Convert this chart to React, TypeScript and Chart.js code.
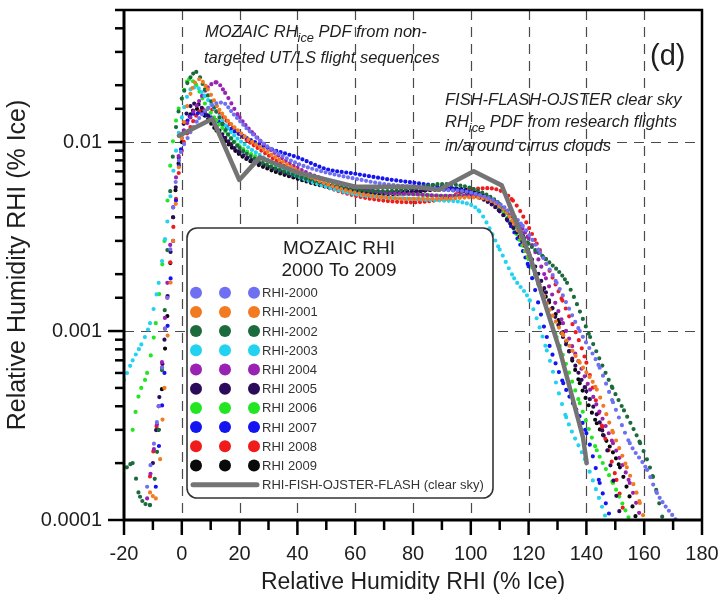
import React, { useEffect, useRef } from 'react';
import { Chart, registerables } from 'chart.js';

Chart.register(...registerables);

const FONT = "'Liberation Sans', Arial, Helvetica, sans-serif";

// axis setup
const X_MIN = -20;
const X_MAX = 180;
const Y_MIN = 0.0001;
const Y_MAX = 0.05;
const X_TICKS = [-20, 0, 20, 40, 60, 80, 100, 120, 140, 160, 180];
const X_TICK_LABELS = ['-20', '0', '20', '40', '60', '80', '100', '120', '140', '160', '180'];
const X_MINOR_TICKS = [-10, 10, 30, 50, 70, 90, 110, 130, 150, 170];
const X_GRID = [0, 20, 40, 60, 80, 100, 120, 140, 160];
const Y_GRID = [0.001, 0.01];
const Y_LABEL_VALUES = [0.0001, 0.001, 0.01];
const Y_TICK_LABELS = ['0.0001', '0.001', '0.01'];

const AXIS_TITLE = 'Relative Humidity RHI (% Ice)';

// series names and colours
const SERIES_NAMES = ['RHI-2000', 'RHI-2001', 'RHI-2002', 'RHI-2003', 'RHI 2004', 'RHI 2005', 'RHI 2006', 'RHI 2007', 'RHI 2008', 'RHI 2009'];
const SERIES_COLORS = ['#6F6FF2', '#F27A20', '#1C6B3D', '#22D2F0', '#9A22B2', '#2A0C5A', '#22E622', '#1414F0', '#F01C1C', '#0A0A0A'];
const FISH_NAME = 'RHI-FISH-OJSTER-FLASH (clear sky)';
const FISH_COLOR = '#747474';

// [RHI %, PDF]
const RHI_2000 = [[-12, 0.00015], [-8, 0.0004], [-5, 0.0015], [-3, 0.0045], [-1, 0.008], [2, 0.0105], [6, 0.0134], [10, 0.0155], [14, 0.0162], [18, 0.014], [24, 0.0112], [30, 0.0094], [40, 0.0077], [50, 0.0069], [60, 0.0064], [70, 0.006], [80, 0.0058], [90, 0.0056], [100, 0.0054], [110, 0.0047], [118, 0.0036], [124, 0.0026], [129.7, 0.0018], [137.7, 0.001], [144.6, 0.00064], [149.2, 0.00042], [155, 0.000255], [161, 0.000184], [164.4, 0.000139], [171, 0.0001]];
const RHI_2001 = [[-11, 0.00014], [-9, 0.00013], [-6, 0.0005], [-3, 0.003], [0, 0.0105], [3, 0.018], [6, 0.0215], [9, 0.019], [13, 0.0148], [20, 0.0113], [30, 0.0088], [40, 0.0071], [50, 0.006], [60, 0.0054], [70, 0.0051], [80, 0.005], [90, 0.005], [100, 0.0051], [110, 0.0046], [115, 0.0037], [120, 0.0025], [126.3, 0.0014], [132, 0.00095], [137.7, 0.00068], [143.6, 0.00049], [149.2, 0.00029], [154, 0.00019], [158.5, 0.000123], [160, 0.0001]];
const RHI_2002 = [[-19, 0.00019], [-17, 0.0002], [-15, 0.00014], [-11, 0.00012], [-8, 0.0003], [-6, 0.0012], [-4, 0.0055], [-2, 0.012], [0, 0.017], [3, 0.022], [5, 0.0235], [8, 0.019], [12, 0.0145], [16, 0.011], [20, 0.0093], [25, 0.0082], [30, 0.0075], [40, 0.0066], [50, 0.006], [60, 0.0056], [70, 0.0055], [80, 0.0057], [90, 0.006], [100, 0.0057], [110, 0.0047], [120, 0.0029], [126, 0.0024], [133.3, 0.0018], [141.3, 0.00093], [149, 0.0005], [153, 0.00038], [158.6, 0.000255], [163, 0.000169], [166.5, 0.0001]];
const RHI_2003 = [[-20, 0.00055], [-17, 0.0007], [-14, 0.00085], [-11, 0.0011], [-8, 0.0018], [-5, 0.0038], [-2, 0.009], [0, 0.0135], [3, 0.019], [5, 0.0195], [8, 0.0175], [12, 0.0145], [16, 0.0118], [20, 0.0102], [30, 0.008], [40, 0.0066], [50, 0.0058], [60, 0.0053], [70, 0.0051], [80, 0.005], [90, 0.0049], [97, 0.0048], [103, 0.0043], [110, 0.0027], [115, 0.0019], [120.4, 0.00145], [126.3, 0.00079], [133, 0.00035], [140, 0.0002], [147, 0.0001]];
const RHI_2004 = [[-12, 0.00013], [-8, 0.0004], [-5, 0.0018], [-2, 0.0065], [0, 0.0105], [3, 0.0135], [6, 0.0165], [9, 0.0195], [12, 0.0207], [15, 0.0182], [20, 0.0135], [25, 0.011], [30, 0.0093], [40, 0.0073], [50, 0.0063], [60, 0.0058], [70, 0.0054], [80, 0.0053], [90, 0.0052], [100, 0.0052], [110, 0.0046], [120, 0.0031], [126, 0.0019], [131.9, 0.0011], [141.3, 0.00049], [149.2, 0.000255], [155, 0.000157], [159, 0.0001]];
const RHI_2005 = [[-10, 0.0002], [-6, 0.0009], [-3, 0.004], [0, 0.011], [3, 0.0155], [5, 0.016], [8, 0.0145], [12, 0.012], [20, 0.0088], [30, 0.0074], [40, 0.0065], [50, 0.0059], [60, 0.0055], [70, 0.0054], [80, 0.0055], [90, 0.0056], [100, 0.0053], [110, 0.0043], [120, 0.0026], [126, 0.0016], [131.9, 0.00093], [140, 0.00048], [146, 0.00028], [152, 0.0001]];
const RHI_2006 = [[-17, 0.0003], [-15, 0.00045], [-12, 0.0006], [-9, 0.0011], [-6, 0.003], [-4, 0.0075], [-2, 0.013], [0, 0.017], [2.5, 0.0215], [5, 0.02], [8, 0.016], [12, 0.013], [20, 0.0095], [30, 0.0078], [40, 0.0067], [50, 0.006], [60, 0.0056], [70, 0.0054], [80, 0.0053], [90, 0.0052], [100, 0.0052], [110, 0.0045], [120, 0.0024], [125, 0.0015], [129.7, 0.00093], [137.7, 0.000415], [143.6, 0.000234], [149.2, 0.000157], [155, 0.0001]];
const RHI_2007 = [[-9, 0.00015], [-6, 0.0006], [-3, 0.003], [-1, 0.0075], [2, 0.013], [5, 0.0142], [8, 0.014], [12, 0.013], [20, 0.011], [30, 0.0093], [40, 0.0083], [50, 0.0072], [60, 0.0068], [70, 0.0064], [80, 0.0061], [90, 0.0058], [100, 0.0054], [110, 0.0044], [120, 0.0022], [126.3, 0.00093], [132, 0.00053], [140, 0.000288], [144.6, 0.000157], [148.5, 0.0001]];
const RHI_2008 = [[-11, 0.00017], [-8, 0.0004], [-5, 0.0015], [-2, 0.005], [0, 0.009], [3, 0.012], [6, 0.0145], [9, 0.015], [12, 0.0145], [20, 0.011], [30, 0.0085], [40, 0.0068], [50, 0.0058], [60, 0.0052], [70, 0.0049], [80, 0.0048], [90, 0.005], [100, 0.0056], [106, 0.0057], [114.6, 0.0049], [122.8, 0.0029], [131.7, 0.00145], [140, 0.00068], [145.5, 0.00031], [150.4, 0.000163], [153.5, 0.0001]];
const RHI_2009 = [[-8, 0.0003], [-5, 0.0012], [-3, 0.004], [0, 0.01], [3, 0.014], [5, 0.015], [8, 0.0138], [12, 0.0115], [20, 0.0086], [30, 0.0072], [40, 0.0064], [50, 0.0058], [60, 0.0055], [70, 0.0053], [80, 0.0054], [90, 0.0057], [100, 0.0055], [110, 0.0046], [118, 0.0032], [122.8, 0.0019], [130.8, 0.0011], [137.7, 0.00053], [143.6, 0.000325], [151.6, 0.00019], [157.4, 0.0001]];
const RHI_FISH = [[-1, 0.0108], [10.6, 0.0133], [19.9, 0.0063], [27, 0.0083], [40, 0.0069], [60, 0.0058], [80, 0.0058], [89, 0.0056], [101, 0.007], [110.7, 0.0059], [120.4, 0.0025], [130.8, 0.00079], [138.8, 0.000274], [140.1, 0.0002]];

const SERIES = [RHI_2000, RHI_2001, RHI_2002, RHI_2003, RHI_2004, RHI_2005, RHI_2006, RHI_2007, RHI_2008, RHI_2009];

const TEXT_COLOR = '#1e1e1e';

// dotted style: one dot per ~1 %RHI bin along x, never closer than DOT_MIN_GAP px
const DOT_MIN_GAP = 4.6;
const DOT_BIN_PX = 3.1;

function segmentDash(ctx: any) {
  const p0 = ctx.p0;
  const p1 = ctx.p1;
  const dx = Math.abs(p1.x - p0.x);
  const dy = Math.abs(p1.y - p0.y);
  const len = Math.sqrt(dx * dx + dy * dy);
  let gap = dx > 0.01 ? (DOT_BIN_PX * len) / dx : 60;
  gap = Math.min(Math.max(gap, DOT_MIN_GAP), 60);
  return [0, gap];
}

function drawRich(ctx: CanvasRenderingContext2D, x: number, y: number, parts: { t: string; sub?: boolean }[], size: number) {
  let cx = x;
  for (const p of parts) {
    if (p.sub) {
      ctx.font = `italic ${size * 0.78}px ${FONT}`;
      ctx.fillText(p.t, cx, y + size * 0.38);
    } else {
      ctx.font = `italic ${size}px ${FONT}`;
      ctx.fillText(p.t, cx, y);
    }
    cx += ctx.measureText(p.t).width;
  }
}

const decorPlugin = {
  id: 'decor',
  beforeDatasetsDraw(chart: any) {
    const { ctx, chartArea: a, scales } = chart;
    const xs = scales.x;
    const ys = scales.y;
    ctx.save();
    ctx.strokeStyle = '#4a4a4a';
    ctx.lineWidth = 1.2;
    ctx.setLineDash([10, 7]);
    X_GRID.forEach((v) => {
      const px = Math.round(xs.getPixelForValue(v)) + 0.5;
      ctx.beginPath();
      ctx.moveTo(px, a.top);
      ctx.lineTo(px, a.bottom);
      ctx.stroke();
    });
    Y_GRID.forEach((v) => {
      const py = Math.round(ys.getPixelForValue(v)) + 0.5;
      ctx.beginPath();
      ctx.moveTo(a.left, py);
      ctx.lineTo(a.right, py);
      ctx.stroke();
    });
    ctx.restore();
  },
  afterDatasetsDraw(chart: any) {
    const { ctx } = chart;
    ctx.save();
    // legend box
    const L = { left: 187, top: 228, right: 493, bottom: 498, r: 10 };
    ctx.beginPath();
    ctx.roundRect(L.left, L.top, L.right - L.left, L.bottom - L.top, L.r);
    ctx.fillStyle = '#ffffff';
    ctx.fill();
    ctx.lineWidth = 1.6;
    ctx.strokeStyle = '#333333';
    ctx.stroke();

    ctx.fillStyle = TEXT_COLOR;
    ctx.textAlign = 'center';
    ctx.textBaseline = 'middle';
    ctx.font = `19px ${FONT}`;
    ctx.fillText('MOZAIC RHI', 339, 249);
    ctx.fillText('2000 To 2009', 339, 271);

    const rowY0 = 292.7;
    const dy = 19.2;
    ctx.textAlign = 'left';
    ctx.font = `13px ${FONT}`;
    chart.data.datasets.forEach((ds: any, i: number) => {
      if (ds.isFish) return;
      const y = rowY0 + i * dy;
      ctx.fillStyle = ds.borderColor;
      [196, 225, 254].forEach((x) => {
        ctx.beginPath();
        ctx.arc(x, y, 6, 0, Math.PI * 2);
        ctx.fill();
      });
      ctx.fillStyle = '#333';
      ctx.fillText(ds.label, 262, y + 1);
    });
    const fish = chart.data.datasets.find((d: any) => d.isFish);
    const fy = rowY0 + 10 * dy;
    ctx.strokeStyle = fish.borderColor;
    ctx.lineWidth = 5;
    ctx.lineCap = 'round';
    ctx.beginPath();
    ctx.moveTo(193, fy);
    ctx.lineTo(257, fy);
    ctx.stroke();
    ctx.fillStyle = '#333';
    ctx.fillText(fish.label, 262, fy + 1);

    // annotations
    ctx.fillStyle = TEXT_COLOR;
    ctx.textAlign = 'left';
    ctx.textBaseline = 'middle';
    drawRich(ctx, 205, 32, [{ t: 'MOZAIC RH' }, { t: 'ice', sub: true }, { t: ' PDF from non-' }], 16.5);
    drawRich(ctx, 204, 58, [{ t: 'targeted UT/LS flight sequences' }], 16.5);
    drawRich(ctx, 445, 100, [{ t: 'FISH-FLASH-OJSTER clear sky' }], 16.5);
    drawRich(ctx, 445, 122, [{ t: 'RH' }, { t: 'ice', sub: true }, { t: ' PDF from research flights' }], 16.5);
    drawRich(ctx, 445, 146, [{ t: 'in/around cirrus clouds' }], 16.5);
    ctx.font = `29px ${FONT}`;
    ctx.fillText('(d)', 650, 57);
    ctx.restore();
  },
  afterDraw(chart: any) {
    const { ctx, chartArea: a, scales } = chart;
    const xs = scales.x;
    const ys = scales.y;
    ctx.save();
    ctx.strokeStyle = '#000';
    ctx.lineCap = 'butt';
    // ticks
    ctx.lineWidth = 2.5;
    X_TICKS.forEach((v) => {
      const px = xs.getPixelForValue(v);
      ctx.beginPath();
      ctx.moveTo(px, a.bottom);
      ctx.lineTo(px, a.bottom + 15);
      ctx.stroke();
    });
    X_MINOR_TICKS.forEach((v) => {
      const px = xs.getPixelForValue(v);
      ctx.beginPath();
      ctx.moveTo(px, a.bottom);
      ctx.lineTo(px, a.bottom + 10);
      ctx.stroke();
    });
    ys.ticks.forEach((t: any) => {
      const py = ys.getPixelForValue(t.value);
      const major = Y_LABEL_VALUES.some((v) => Math.abs(v - t.value) / v < 1e-6);
      ctx.beginPath();
      ctx.moveTo(a.left - (major ? 16 : 9), py);
      ctx.lineTo(a.left, py);
      ctx.stroke();
    });
    // frame
    ctx.lineWidth = 3;
    ctx.beginPath();
    ctx.moveTo(a.left, a.top);
    ctx.lineTo(a.left, a.bottom);
    ctx.lineTo(a.right, a.bottom);
    ctx.stroke();
    ctx.lineWidth = 2.5;
    ctx.beginPath();
    ctx.moveTo(a.left, a.top);
    ctx.lineTo(a.right, a.top);
    ctx.lineTo(a.right, a.bottom);
    ctx.stroke();
    ctx.restore();
  },
};

export default function App() {
  const ref = useRef<HTMLCanvasElement | null>(null);
  useEffect(() => {
    document.body.style.margin = '0';
    const canvas = ref.current;
    if (!canvas) return;
    const datasets: any[] = SERIES.map((s, i) => ({
      label: SERIES_NAMES[i],
      data: s.map(([x, y]) => ({ x, y })),
      borderColor: SERIES_COLORS[i],
      backgroundColor: SERIES_COLORS[i],
      borderWidth: 4.2,
      borderDash: [0, DOT_MIN_GAP],
      borderCapStyle: 'round',
      segment: { borderDash: segmentDash },
      pointRadius: 0,
      cubicInterpolationMode: 'monotone',
      fill: false,
      order: 1,
    }));
    datasets.push({
      label: FISH_NAME,
      isFish: true,
      data: RHI_FISH.map(([x, y]) => ({ x, y })),
      borderColor: FISH_COLOR,
      backgroundColor: FISH_COLOR,
      borderWidth: 4.5,
      borderCapStyle: 'round',
      borderJoinStyle: 'round',
      pointRadius: 0,
      tension: 0,
      fill: false,
      order: 0,
    });
    const chart = new Chart(canvas, {
      type: 'line',
      data: { datasets },
      plugins: [decorPlugin as any],
      options: {
        responsive: false,
        animation: false,
        devicePixelRatio: 1,
        layout: { padding: { top: 10, right: 20, left: 0, bottom: 0 } },
        font: { family: FONT },
        plugins: { legend: { display: false }, tooltip: { enabled: false } },
        scales: {
          x: {
            type: 'linear',
            min: X_MIN,
            max: X_MAX,
            afterFit: (s: any) => {
              s.height = 74;
              s.paddingLeft = 0;
              s.paddingRight = 0;
            },
            afterBuildTicks: (s: any) => {
              s.ticks = X_TICKS.map((v) => ({ value: v }));
            },
            grid: { display: false, drawTicks: false },
            border: { display: false },
            ticks: {
              autoSkip: false,
              maxRotation: 0,
              padding: 22,
              color: TEXT_COLOR,
              font: { size: 20, family: FONT },
              callback: (v: any) => {
                const i = X_TICKS.indexOf(Number(v));
                return i >= 0 ? X_TICK_LABELS[i] : '';
              },
            },
            title: {
              display: true,
              text: AXIS_TITLE,
              color: TEXT_COLOR,
              font: { size: 23, family: FONT },
              padding: { top: 0, bottom: -2 },
            },
          },
          y: {
            type: 'logarithmic',
            min: Y_MIN,
            max: Y_MAX,
            afterFit: (s: any) => {
              s.width = 124;
              s.paddingTop = 0;
              s.paddingBottom = 0;
            },
            grid: { display: false, drawTicks: false },
            border: { display: false },
            ticks: {
              autoSkip: false,
              padding: 22,
              color: TEXT_COLOR,
              font: { size: 20, family: FONT },
              callback: (v: any) => {
                const i = Y_LABEL_VALUES.findIndex((t) => Math.abs(t - Number(v)) / t < 1e-6);
                return i >= 0 ? Y_TICK_LABELS[i] : '';
              },
            },
            title: {
              display: true,
              text: AXIS_TITLE,
              color: TEXT_COLOR,
              font: { size: 25, family: FONT },
              padding: { top: 3, bottom: 0 },
            },
          },
        },
      } as any,
    });
    return () => chart.destroy();
  }, []);
  return (
    <div style={{ width: 722, height: 594 }}>
      <canvas ref={ref} width={722} height={594} style={{ display: 'block' }} />
    </div>
  );
}
